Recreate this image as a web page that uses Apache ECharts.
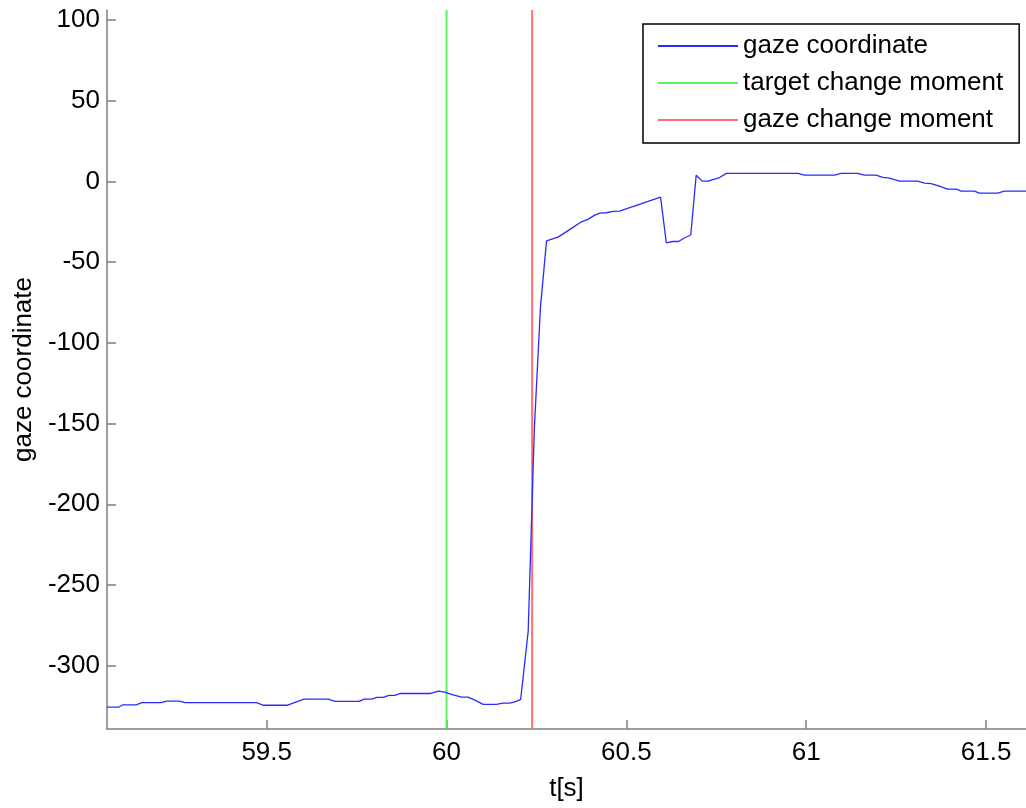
<!DOCTYPE html>
<html>
<head>
<meta charset="utf-8">
<script src="https://cdn.jsdelivr.net/npm/echarts@6/dist/echarts.min.js"></script>
<style>
  html, body { margin: 0; padding: 0; background: #fff; }
  #main { width: 1026px; height: 808px; }
</style>
</head>
<body>
<div id="main"></div>
<script>
// 数据：时间(s) 与注视坐标
const timeS = [
  59.056, 59.088, 59.100, 59.137, 59.153, 59.206, 59.222, 59.257, 59.273, 59.472,
  59.491, 59.556, 59.604, 59.671, 59.690, 59.757, 59.771, 59.792, 59.806, 59.824,
  59.840, 59.856, 59.872, 59.956, 59.977, 59.995, 60.018, 60.042, 60.060, 60.079,
  60.102, 60.139, 60.156, 60.176, 60.187, 60.206, 60.227, 60.244, 60.261, 60.278,
  60.310, 60.343, 60.375, 60.393, 60.412, 60.426, 60.444, 60.463, 60.481, 60.595,
  60.611, 60.629, 60.645, 60.662, 60.679, 60.694, 60.711, 60.727, 60.759, 60.778,
  60.977, 60.995, 61.079, 61.097, 61.143, 61.162, 61.194, 61.213, 61.231, 61.259,
  61.310, 61.329, 61.347, 61.370, 61.393, 61.417, 61.431, 61.468, 61.481, 61.532,
  61.551, 61.611
];
const gazeValues = [
  -325.7, -325.7, -324.2, -324.2, -322.9, -322.9, -321.9, -321.9, -322.9, -322.9,
  -324.5, -324.5, -320.7, -320.7, -322.1, -322.1, -320.7, -320.7, -319.6, -319.6,
  -318.4, -318.4, -317.2, -317.2, -315.7, -316.3, -318.0, -319.5, -319.5, -321.3,
  -323.9, -323.9, -323.2, -323.2, -322.5, -321.0, -278.6, -153.6, -78.3, -36.8,
  -34.5, -29.7, -25.0, -23.5, -20.9, -19.6, -19.4, -18.6, -18.4, -9.7,
  -38.0, -37.2, -37.2, -34.9, -33.2, 3.8, 0.2, 0.2, 2.4, 5.0,
  5.0, 3.9, 3.9, 5.0, 5.0, 3.9, 3.9, 2.5, 2.0, 0.2,
  0.2, -1.0, -1.3, -2.9, -4.8, -4.8, -6.0, -6.0, -7.2, -7.2,
  -6.0, -6.0
];
const targetChangeT = 60.0;
const gazeChangeT = 60.238;
const seriesNames = ['gaze coordinate', 'target change moment', 'gaze change moment'];
const xTicks = [59.5, 60, 60.5, 61, 61.5];
const yTicks = [-300, -250, -200, -150, -100, -50, 0, 50, 100];
const xRange = [59.056, 61.611];
const yRange = [-339.2, 106.2];

const FONT = "'Liberation Sans', Arial, sans-serif";

const initChart = () => {
    const dom = document.getElementById('main');
    const myChart = echarts.init(dom, null, { renderer: 'canvas' });

    const gazeData = timeS.map((t, i) => [t, gazeValues[i]]);
    const vLine = (t) => [[t, yRange[0]], [t, yRange[1]]];

    const axisCommon = {
        axisLine: { show: true, onZero: false, lineStyle: { color: '#7f7f7f', width: 1.5 } },
        axisTick: { show: true, inside: true, length: 9, lineStyle: { color: '#7f7f7f', width: 1.5 } },
        splitLine: { show: false },
        axisLabel: { color: '#000', fontSize: 26, fontFamily: FONT },
        nameTextStyle: { color: '#000', fontSize: 26, fontFamily: FONT }
    };

    const option = {
        animation: false,
        backgroundColor: '#fff',
        grid: { left: 107, right: 0, top: 10, bottom: 79, outerBoundsMode: 'none' },
        legend: {
            data: seriesNames,
            orient: 'vertical',
            left: 643,
            top: 24,
            padding: [9, 16, 10, 15],
            itemGap: 11,
            itemWidth: 80,
            itemHeight: 2,
            icon: 'rect',
            borderColor: '#000',
            borderWidth: 1.5,
            backgroundColor: '#fff',
            textStyle: { color: '#000', fontSize: 26, fontFamily: FONT }
        },
        xAxis: Object.assign({}, axisCommon, {
            type: 'value',
            min: xRange[0],
            max: xRange[1],
            name: 't[s]',
            nameLocation: 'middle',
            nameGap: 47,
            axisTick: Object.assign({}, axisCommon.axisTick, { customValues: xTicks }),
            axisLabel: Object.assign({}, axisCommon.axisLabel, { margin: 11, customValues: xTicks })
        }),
        yAxis: Object.assign({}, axisCommon, {
            type: 'value',
            min: yRange[0],
            max: yRange[1],
            name: 'gaze coordinate',
            nameLocation: 'middle',
            nameGap: 70,
            axisTick: Object.assign({}, axisCommon.axisTick, { customValues: yTicks }),
            axisLabel: Object.assign({}, axisCommon.axisLabel, { margin: 7, customValues: yTicks })
        }),
        series: [
            {
                name: seriesNames[0],
                type: 'line',
                data: gazeData,
                showSymbol: false,
                color: '#2a2aff',
                lineStyle: { width: 1.3 },
                z: 3
            },
            {
                name: seriesNames[1],
                type: 'line',
                data: vLine(targetChangeT),
                showSymbol: false,
                color: '#5cf05c',
                lineStyle: { width: 2 },
                z: 2
            },
            {
                name: seriesNames[2],
                type: 'line',
                data: vLine(gazeChangeT),
                showSymbol: false,
                color: '#ff7070',
                lineStyle: { width: 2 },
                z: 2
            }
        ]
    };

    myChart.setOption(option);
    window.addEventListener('resize', myChart.resize);
};

initChart();
</script>
</body>
</html>
